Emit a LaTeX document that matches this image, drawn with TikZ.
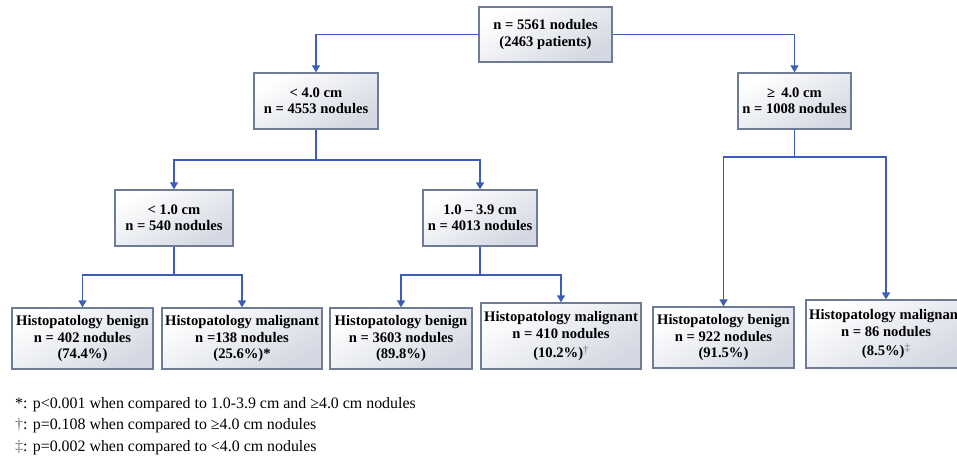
\documentclass[tikz,border=0pt]{standalone}
\usepackage{fontspec}
\setmainfont{Liberation Serif}
\usetikzlibrary{arrows.meta,calc}
\definecolor{conncol}{HTML}{3C5DB8}
\definecolor{boxedge}{HTML}{6F7C96}
\definecolor{boxshade}{HTML}{D3D8E2}
\definecolor{markgray}{HTML}{707070}
\newcommand{\upmark}[1]{\raisebox{3.5pt}{\fontsize{11}{11}\selectfont\mdseries\color{markgray}#1}}
\tikzset{
  box/.style={draw=boxedge, line width=1.3pt, top color=white, bottom color=boxshade, shading angle=30,
    align=center, font=\fontsize{14.6}{16.3}\selectfont\bfseries, inner sep=0pt, anchor=center},
  conn/.style={draw=conncol, line width=1.4pt, -{Triangle[width=8pt,length=7pt]}},
  plainconn/.style={draw=conncol, line width=1.4pt},
  note/.style={anchor=west, inner sep=0pt, font=\fontsize{15.9}{18}\selectfont}
}
\begin{document}
\begin{tikzpicture}[x=1pt,y=-1pt]
\useasboundingbox (0,0) rectangle (957,461);
\clip (0,0) rectangle (957,461);
\node[box, minimum width=133pt, minimum height=55pt] (root) at (545.5,34.5) {n = 5561 nodules\\(2463 patients)};
\node[box, minimum width=124pt, minimum height=56pt] (lt4) at (316,101) {< 4.0 cm\\n = 4553 nodules};
\node[box, minimum width=113pt, minimum height=56pt] (ge4) at (794.5,101) {≥ \,4.0 cm\\n = 1008 nodules};
\node[box, minimum width=118pt, minimum height=56pt] (lt1) at (174,218) {< 1.0 cm\\n = 540 nodules};
\node[box, minimum width=114pt, minimum height=56pt] (mid) at (480,218) {1.0 – 3.9 cm\\n = 4013 nodules};
\node[box, minimum width=141pt, minimum height=61pt] (l1) at (82.5,338.5) {Histopatology benign\\n = 402 nodules\\(74.4\%)};
\node[box, minimum width=160pt, minimum height=61pt] (l2) at (242,338.5) {Histopatology malignant\\n =138 nodules\\(25.6\%)*};
\node[box, minimum width=142pt, minimum height=61pt] (l3) at (401,338.5) {Histopatology benign\\n = 3603 nodules\\(89.8\%)};
\node[box, minimum width=160pt, minimum height=66pt] (l4) at (561,336) {Histopatology malignant\\n = 410 nodules\\[3pt](10.2\%)\upmark{†}};
\node[box, minimum width=141pt, minimum height=61pt] (l5) at (723.5,337.5) {Histopatology benign\\n = 922 nodules\\(91.5\%)};
\node[box, minimum width=160pt, minimum height=68pt] (l6) at (886,334) {Histopatology malignant\\n = 86 nodules\\[3pt](8.5\%)\upmark{‡}};
\coordinate (j1) at (316,160);
\coordinate (j2) at (794.5,157);
\coordinate (j3) at (174,275);
\coordinate (j4) at (480,275);
\draw[conn] (root.west) -| (lt4.north);
\draw[conn] (root.east) -| (ge4.north);
\draw[plainconn] (lt4.south) -- (j1);
\draw[conn] (j1) -| (lt1.north);
\draw[conn] (j1) -| (mid.north);
\draw[plainconn] (ge4.south) -- (j2);
\draw[conn] (j2) -| (l5.north);
\draw[conn] (j2) -| (l6.north);
\draw[plainconn] (lt1.south) -- (j3);
\draw[conn] (j3) -| (l1.north);
\draw[conn] (j3) -| (l2.north);
\draw[plainconn] (mid.south) -- (j4);
\draw[conn] (j4) -| (l3.north);
\draw[conn] (j4) -| (l4.north);
\node[note] (n1) at (15,405) {*: p<0.001 when compared to 1.0-3.9 cm and ≥4.0 cm nodules};
\node[note] (n2) at (15,426) {{\color{markgray}†}: p=0.108 when compared to ≥4.0 cm nodules};
\node[note] (n3) at (15,448) {{\color{markgray}‡}: p=0.002 when compared to <4.0 cm nodules};
\end{tikzpicture}
\end{document}
